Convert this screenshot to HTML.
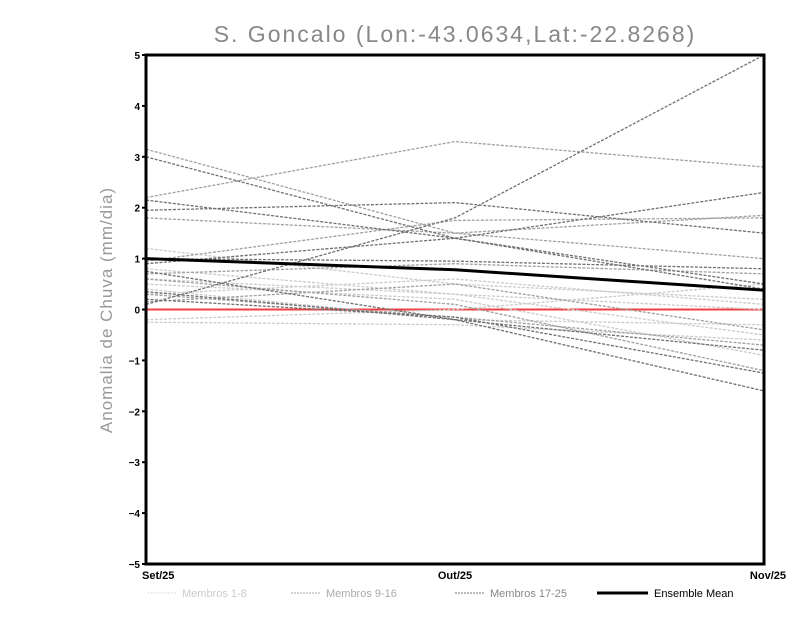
<!DOCTYPE html>
<html><head><meta charset="utf-8"><style>
body{margin:0;background:#fff;}
svg{display:block;font-family:"Liberation Sans",sans-serif;}
</style></head><body>
<svg id="chart" width="800" height="618">
<text x="455" y="42" text-anchor="middle" font-size="23" fill="#888" letter-spacing="2">S. Goncalo (Lon:-43.0634,Lat:-22.8268)</text>
<text transform="translate(112,310) rotate(-90)" text-anchor="middle" font-size="17" fill="#999" letter-spacing="1">Anomalia de Chuva (mm/dia)</text>
<g id="lines"></g>
<g id="axes"></g>
<g font-size="11">
 <line x1="147" y1="593" x2="176" y2="593" stroke="#ddd" stroke-dasharray="2,1"/>
 <text x="182" y="597" fill="#ccc">Membros 1-8</text>
 <line x1="291" y1="593" x2="320" y2="593" stroke="#aaa" stroke-dasharray="2,1"/>
 <text x="326" y="597" fill="#aaa">Membros 9-16</text>
 <line x1="455" y1="593" x2="484" y2="593" stroke="#777" stroke-dasharray="2,1"/>
 <text x="490" y="597" fill="#888">Membros 17-25</text>
 <line x1="597" y1="593" x2="648" y2="593" stroke="#000" stroke-width="3"/>
 <text x="654" y="597" fill="#000">Ensemble Mean</text>
</g>
</svg>
<script>
const categories=["Set/25","Out/25","Nov/25"];
const yTicks=[-5,-4,-3,-2,-1,0,1,2,3,4,5];
const group1=[[1.2,0.5,0.2],[0.8,0.3,-0.5],[0.5,0.2,-0.9],[-0.2,0.0,0.5],[-0.25,-0.3,-0.6],[0.4,-0.2,-0.3],[0.6,0.3,0.0],[0.3,0.6,0.1]];
const group2=[[3.15,1.5,1.0],[2.2,3.3,2.8],[1.8,1.5,1.85],[0.95,1.75,1.8],[0.7,0.9,0.7],[0.3,-0.15,-0.7],[0.15,0.5,-0.4],[0.6,0.1,-1.2]];
const group3=[[3.0,1.4,0.4],[0.1,1.8,5.0],[2.15,1.4,0.5],[1.95,2.1,1.5],[0.9,1.4,2.3],[0.75,-0.2,-1.6],[0.2,-0.15,-1.25],[0.35,-0.2,-0.8],[1.0,0.95,0.8]];
const ensembleMean=[1.0,0.78,0.38];
const L=146,R=764,T=55,B=564;
const xs=i=>L+(R-L)*i/(categories.length-1);
const ys=v=>B-(v+5)*(B-T)/10;
const NS="http://www.w3.org/2000/svg";
const lines=document.getElementById('lines');
function poly(vals,stroke,w,dash,name){
 const p=document.createElementNS(NS,'polyline');
 p.setAttribute('points',vals.map((v,i)=>xs(i)+','+ys(v)).join(' '));
 p.setAttribute('fill','none');p.setAttribute('stroke',stroke);p.setAttribute('stroke-width',w);
 if(dash)p.setAttribute('stroke-dasharray',dash);
 
 
 lines.appendChild(p);
}
const zl=document.createElementNS(NS,'line');
zl.setAttribute('x1',L);zl.setAttribute('x2',R);zl.setAttribute('y1',ys(0));zl.setAttribute('y2',ys(0));
zl.setAttribute('stroke','#f04040');zl.setAttribute('stroke-width','2');


lines.appendChild(zl);
group1.forEach((s,i)=>poly(s,'#ccc',1.3,'3,1.5','member-1-8-line'));
group2.forEach((s,i)=>poly(s,'#a0a0a0',1.3,'3,1.5','member-9-16-line'));
group3.forEach((s,i)=>poly(s,'#707070',1.3,'3,1.5','member-17-25-line'));
poly(ensembleMean,'#000',3,null,'ensemble-mean-line');
const ax=document.getElementById('axes');
const fr=document.createElementNS(NS,'rect');
fr.setAttribute('x',L);fr.setAttribute('y',T);fr.setAttribute('width',R-L);fr.setAttribute('height',B-T);
fr.setAttribute('fill','none');fr.setAttribute('stroke','#000');fr.setAttribute('stroke-width','3');


ax.appendChild(fr);
yTicks.forEach(v=>{
 const t=document.createElementNS(NS,'line');
 t.setAttribute('x1',L-4);t.setAttribute('x2',L);t.setAttribute('y1',ys(v));t.setAttribute('y2',ys(v));t.setAttribute('stroke','#000');t.setAttribute('stroke-width','2');
 
 
 ax.appendChild(t);
 const tx=document.createElementNS(NS,'text');
 tx.setAttribute('x',L-6);tx.setAttribute('y',ys(v)+4);tx.setAttribute('text-anchor','end');tx.setAttribute('font-size','10');tx.setAttribute('font-weight','bold');
 tx.textContent=v<0?'\u2212'+(-v):v;
 
 
 ax.appendChild(tx);
});
categories.forEach((c,i)=>{
 const tx=document.createElementNS(NS,'text');
 tx.setAttribute('x',i==0?L-4:(i==categories.length-1?R+22:xs(i)));tx.setAttribute('y',B+15);
 tx.setAttribute('text-anchor',i==categories.length-1?'end':(i==0?'start':'middle'));
 tx.setAttribute('font-size','11');tx.setAttribute('font-weight','bold');
 tx.textContent=c;
 
 
 ax.appendChild(tx);
});
</script>
</body></html>
